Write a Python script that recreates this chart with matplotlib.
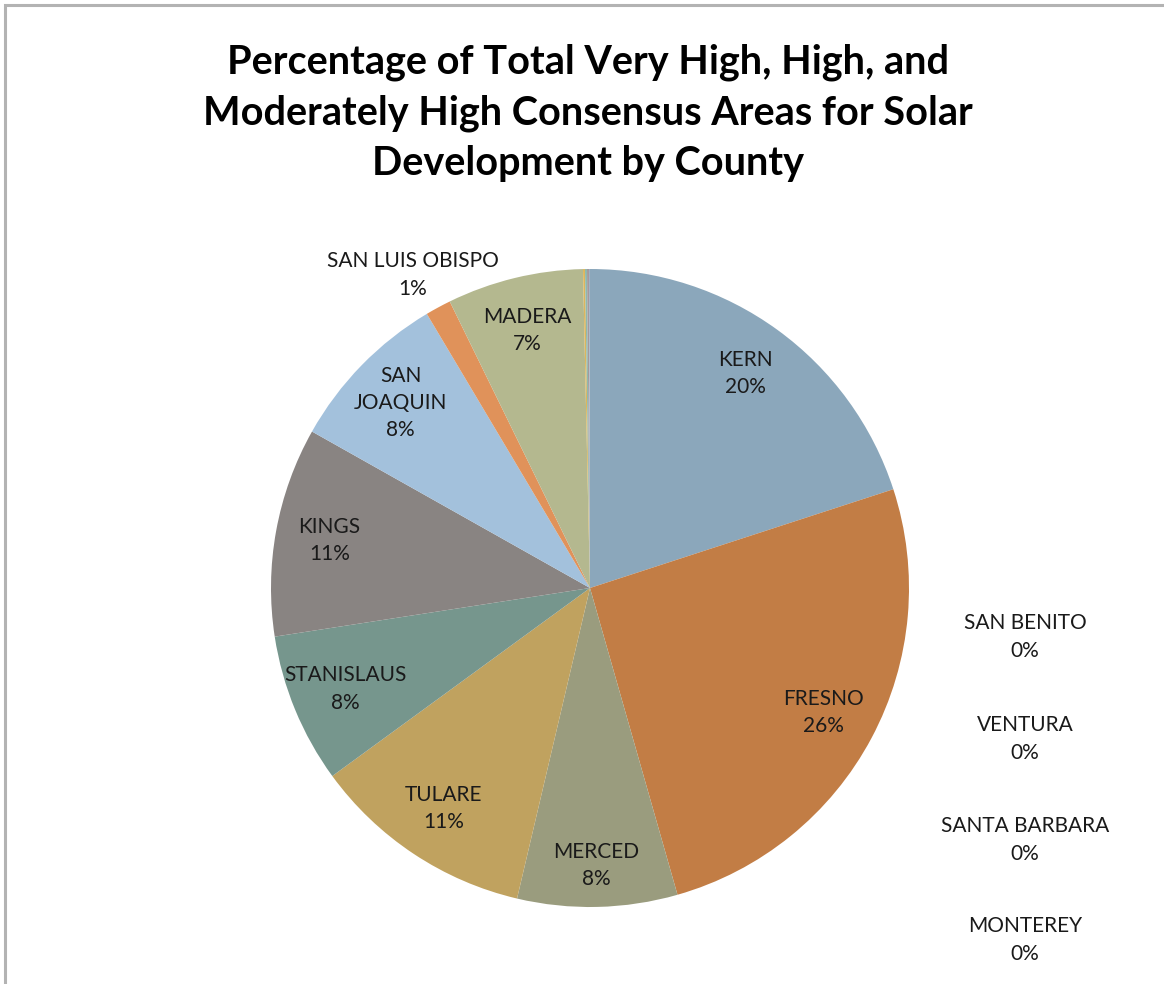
import numpy as np
import matplotlib.pyplot as plt
from matplotlib.patches import Rectangle

plt.rcParams['font.family'] = ['Lato', 'DejaVu Sans']

# county shares of consensus area (%), clockwise from 12 o'clock
counties = ['KERN', 'FRESNO', 'MERCED', 'TULARE', 'STANISLAUS', 'KINGS',
            'SAN\nJOAQUIN', 'SAN LUIS OBISPO', 'MADERA',
            'SAN BENITO', 'VENTURA', 'SANTA BARBARA', 'MONTEREY']
shares = [20.0, 25.6, 8.1, 11.3, 7.6, 10.6, 8.3, 1.3, 6.9, 0.1, 0.1, 0.1, 0.05]
colors = ['#8ba7bb', '#c27d45', '#9a9c7e', '#c0a25f', '#76968d', '#898482',
          '#a3c1dc', '#e0925a', '#b4b88f', '#dcb65c', '#8eb8ae', '#a39a9e',
          '#9fb0c4']

# labels that sit outside the pie (figure pixel positions)
outside = {
    'SAN LUIS OBISPO': (413, 275),
    'SAN BENITO': (1025, 637),
    'VENTURA': (1025, 739),
    'SANTA BARBARA': (1025, 840),
    'MONTEREY': (1025, 940),
}

W, H = 1164, 984
fig = plt.figure(figsize=(W / 100, H / 100), dpi=100)

# partial chart frame: top and left edges
fig.patches.append(Rectangle((5 / W, -0.2), 1.2, 1.2 - 5 / H,
                             transform=fig.transFigure, fill=False,
                             edgecolor='#b3b3b3', linewidth=2.2))

fig.text(588 / W, 1 - 113 / H,
         'Percentage of Total Very High, High, and\n'
         'Moderately High Consensus Areas for Solar\n'
         'Development by County',
         ha='center', va='center', fontsize=28.5, fontweight='bold',
         linespacing=1.45, color='black')

cx, cy, r = 590, 588, 319
ax = fig.add_axes([(cx - r) / W, (H - cy - r) / H, 2 * r / W, 2 * r / H])
wedges, _ = ax.pie(shares, colors=colors, startangle=90, counterclock=False,
                   radius=1.0, wedgeprops=dict(linewidth=0))
ax.set_xlim(-1, 1)
ax.set_ylim(-1, 1)
ax.set_aspect('equal')
ax.axis('off')

total = sum(shares)
for w, name, val in zip(wedges, counties, shares):
    text = f'{name}\n{round(val / total * 100):.0f}%'
    if name in outside:
        px, py = outside[name]
        fig.text(px / W, 1 - py / H, text, ha='center', va='center',
                 fontsize=15, linespacing=1.45, color='#1a1a1a')
        continue
    mid = np.deg2rad((w.theta1 + w.theta2) / 2)
    d = 0.87 if name == 'MERCED' else 0.83
    ax.text(d * np.cos(mid), d * np.sin(mid), text, ha='center', va='center',
            fontsize=15, linespacing=1.45, color='#1a1a1a')

fig.savefig('out.png', dpi=100, facecolor='white')
